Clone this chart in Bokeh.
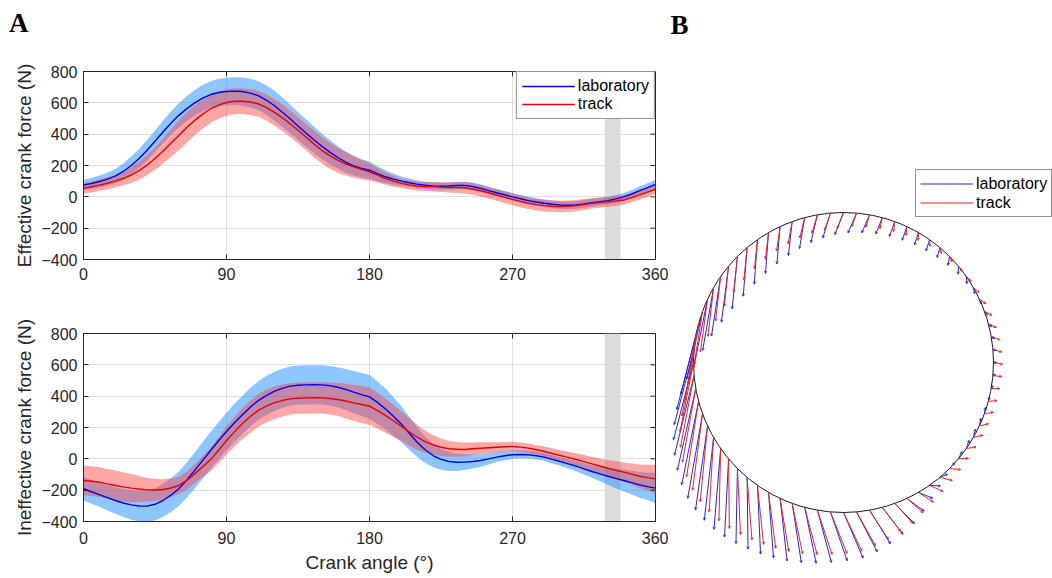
import numpy as np
from bokeh.plotting import figure
from bokeh.layouts import row, column
from bokeh.models import (Range1d, FixedTicker, Legend, LegendItem, Div,
                          BoxAnnotation, Label, ColumnDataSource, Arrow, OpenHead)
from bokeh.embed import file_html
from bokeh.resources import INLINE

# ---------------- data (every 5 degrees) ----------------
angles = list(range(0, 361, 5))

eff_lab = [75, 85, 98, 113, 132, 162, 200, 245, 297, 355, 414, 470, 520, 563, 600, 630, 653, 666, 672,
           675, 672, 662, 646, 618, 583, 542, 498, 452, 407, 364, 323, 285, 251, 222, 198, 182, 170,
           148, 128, 113, 100, 90, 81, 74, 69, 68, 69, 72, 73, 66, 54, 40, 26, 13, 0, -12, -24,
           -33, -41, -47, -52, -54, -52, -45, -37, -31, -24, -13, 0, 18, 39, 59, 79]
eff_lab_sd = [32, 35, 38, 41, 45, 51, 57, 61, 65, 69, 72, 75, 78, 80, 82, 84, 85, 87, 88,
              89, 90, 91, 92, 94, 95, 94, 92, 90, 88, 85, 82, 77, 72, 67, 62, 58, 55,
              48, 42, 36, 30, 27, 25, 23, 22, 22, 22, 23, 24, 25, 25, 25, 25, 25, 25, 24, 24,
              24, 24, 24, 24, 24, 24, 24, 24, 24, 24, 24, 25, 26, 27, 28, 30]
eff_trk = [54, 64, 75, 87, 100, 117, 139, 167, 202, 245, 291, 342, 392, 442, 488, 528, 562, 586, 602,
           610, 610, 605, 594, 571, 541, 506, 467, 425, 382, 338, 297, 263, 234, 211, 192, 175, 160,
           138, 117, 100, 86, 76, 69, 66, 65, 62, 60, 59, 58, 50, 39, 26, 12, -2, -16, -29, -41,
           -50, -56, -60, -62, -60, -56, -49, -41, -36, -31, -26, -20, -5, 12, 30, 48]
eff_trk_sd = [34, 35, 36, 38, 40, 45, 50, 57, 65, 72, 80, 88, 95, 96, 95, 92, 90, 87, 85,
              83, 82, 82, 82, 83, 85, 85, 85, 85, 85, 85, 85, 83, 80, 75, 70, 62, 55,
              47, 40, 35, 30, 29, 28, 29, 30, 31, 33, 35, 36, 37, 37, 37, 37, 37, 37, 37, 37,
              37, 37, 37, 37, 37, 36, 35, 34, 33, 32, 31, 30, 30, 30, 30, 30]

ineff_lab = [-191, -210, -228, -248, -266, -282, -294, -301, -302, -290, -266, -232, -191, -136, -74, -10, 53,
             115, 174, 230, 281, 330, 372, 404, 430, 450, 464, 470, 472, 473, 472, 467, 457, 443, 426,
             410, 395, 360, 319, 272, 223, 163, 106, 58, 21, -3, -17, -22, -21, -17, -11, 0, 11,
             20, 26, 28, 26, 20, 11, -3, -17, -32, -47, -64, -81, -96, -111, -125, -138, -152, -166,
             -177, -187]
ineff_lab_sd = [75, 76, 78, 81, 85, 90, 95, 98, 100, 103, 105, 108, 110, 113, 115, 117, 118,
                119, 120, 121, 122, 123, 124, 125, 125, 125, 125, 125, 125, 125, 125, 126, 128, 131, 135,
                138, 140, 136, 130, 123, 115, 105, 95, 85, 75, 67, 60, 55, 50, 45, 40, 36, 32,
                29, 27, 26, 25, 25, 25, 26, 27, 29, 32, 36, 40, 47, 55, 62, 70, 76, 82,
                88, 95]
ineff_trk = [-138, -143, -149, -160, -170, -179, -187, -193, -198, -199, -196, -186, -170, -138, -96, -50, -5,
             55, 117, 172, 225, 270, 309, 337, 357, 372, 383, 387, 389, 390, 389, 385, 379, 369, 357,
             347, 336, 308, 277, 243, 209, 172, 138, 110, 89, 74, 64, 61, 60, 64, 68, 71, 74,
             77, 79, 75, 68, 58, 47, 34, 21, 9, -4, -18, -32, -46, -60, -73, -85, -98, -111,
             -120, -128]
ineff_trk_sd = [95, 95, 95, 95, 95, 93, 90, 83, 75, 70, 65, 60, 55, 57, 60, 67, 75,
                83, 90, 95, 100, 103, 105, 105, 105, 103, 100, 100, 100, 100, 100, 102, 105, 110, 115,
                118, 120, 115, 110, 103, 95, 88, 80, 71, 62, 56, 50, 47, 45, 41, 38, 35, 32,
                31, 30, 30, 30, 31, 32, 33, 35, 37, 40, 42, 45, 48, 52, 57, 62, 68, 75,
                82, 90]

x_ticks = [0, 90, 180, 270, 360]
y_ticks = [-400, -200, 0, 200, 400, 600, 800]
shade_range = [328, 338]
series_names = ["laboratory", "track"]

# ---------------- style ----------------
SANS = "Liberation Sans"
SERIF = "Liberation Serif"
AXC = "#262626"
GRID = "#dedede"
LINE_BLUE = "#0000F0"
LINE_RED = "#E80000"
BAND_BLUE = "#1E90FF"
BAND_RED = "#FF3C3C"
FRAME_W = 572
FRAME_H = 188
TICK_PX = 5


def style_axis(ax, ticks):
    ax.ticker = FixedTicker(ticks=ticks)
    ax.major_tick_in = TICK_PX
    ax.major_tick_out = 0
    ax.minor_tick_line_color = None
    ax.axis_line_color = AXC
    ax.major_tick_line_color = AXC
    ax.major_label_text_color = AXC
    ax.major_label_text_font = SANS
    ax.major_label_text_font_size = "16px"
    ax.axis_label_text_font = SANS
    ax.axis_label_text_font_style = "normal"
    ax.axis_label_text_color = AXC
    ax.axis_label_text_font_size = "19px"


def panel(height, top, bottom, lab, lab_sd, trk, trk_sd, ylabel, xlabel=None, legend=False,
          xstand=8):
    p = figure(width=668, height=height,
               x_range=Range1d(x_ticks[0], x_ticks[-1]),
               y_range=Range1d(y_ticks[0], y_ticks[-1]),
               output_backend="svg", toolbar_location=None,
               min_border_left=83, min_border_right=13,
               min_border_top=top, min_border_bottom=bottom,
               outline_line_color=AXC, outline_line_width=1)
    style_axis(p.xaxis[0], x_ticks)
    style_axis(p.yaxis[0], y_ticks)
    p.xaxis[0].major_label_standoff = xstand
    p.yaxis[0].major_label_standoff = 6
    p.yaxis[0].axis_label = ylabel
    p.yaxis[0].axis_label_standoff = 3
    if xlabel:
        p.xaxis[0].axis_label = xlabel
        p.xaxis[0].axis_label_standoff = 5

    p.xgrid.ticker = FixedTicker(ticks=x_ticks)
    p.ygrid.ticker = FixedTicker(ticks=y_ticks)
    p.grid.grid_line_color = GRID
    p.grid.grid_line_width = 1

    p.add_layout(BoxAnnotation(left=shade_range[0], right=shade_range[1],
                               fill_color="#dcdcdc", fill_alpha=1.0, line_color=None,
                               level="underlay"))

    a = np.array(angles, float)
    lab = np.array(lab, float); lab_sd = np.array(lab_sd, float)
    trk = np.array(trk, float); trk_sd = np.array(trk_sd, float)
    p.varea(x=a, y1=lab - lab_sd, y2=lab + lab_sd, fill_color=BAND_BLUE, fill_alpha=0.5)
    p.varea(x=a, y1=trk - trk_sd, y2=trk + trk_sd, fill_color=BAND_RED, fill_alpha=0.45)
    r_lab = p.line(a, lab, line_color=LINE_BLUE, line_width=1.4)
    r_trk = p.line(a, trk, line_color=LINE_RED, line_width=1.4)

    # mirrored inward ticks on the top and right edges of the box
    dx = TICK_PX * (x_ticks[-1] - x_ticks[0]) / FRAME_W
    dy = TICK_PX * (y_ticks[-1] - y_ticks[0]) / FRAME_H
    xt = np.array(x_ticks[1:-1], float)
    yt = np.array(y_ticks[1:-1], float)
    p.segment(x0=xt, y0=[y_ticks[-1]] * len(xt), x1=xt, y1=[y_ticks[-1] - dy] * len(xt),
              line_color=AXC, line_width=1)
    p.segment(x0=[x_ticks[-1]] * len(yt), y0=yt, x1=[x_ticks[-1] - dx] * len(yt), y1=yt,
              line_color=AXC, line_width=1)

    if legend:
        lg = Legend(items=[LegendItem(label=series_names[0], renderers=[r_lab]),
                           LegendItem(label=series_names[1], renderers=[r_trk])],
                    location="top_right", margin=0, padding=5, spacing=0,
                    glyph_width=53, glyph_height=18, label_height=18, label_standoff=3,
                    label_text_font=SANS, label_text_font_size="16px", label_text_color="black",
                    border_line_color=AXC, border_line_width=1, background_fill_alpha=1.0)
        p.add_layout(lg)
    return p


# header strip carrying the panel letter "A"
head = Div(text=("<div style=\"font-family:'Liberation Serif';font-weight:bold;font-size:27px;"
                 "line-height:27px;padding-left:9px;padding-top:10px;color:black;\">A</div>"),
           width=668, height=40, margin=0)

p1 = panel(258, 31, 39, eff_lab, eff_lab_sd, eff_trk, eff_trk_sd,
           "Effective crank force (N)", legend=True, xstand=8)
p2 = panel(280, 35, 57, ineff_lab, ineff_lab_sd, ineff_trk, ineff_trk_sd,
           "Ineffective crank force (N)", xlabel="Crank angle (°)", xstand=10)

# ---------------- panel B: force vectors around the crank circle ----------------
R_PX = 150.0
pB = figure(width=384, height=578,
            x_range=Range1d(-175 / R_PX, 209 / R_PX),
            y_range=Range1d(-216 / R_PX, 362 / R_PX),
            x_axis_type=None, y_axis_type=None, min_border=0,
            outline_line_color=None, output_backend="svg", toolbar_location=None)
pB.grid.visible = False

arrow_scale = 0.115 / R_PX
th = np.deg2rad(np.array(angles[:-1], float))
px, py = -np.sin(th), np.cos(th)
tx, ty = -np.cos(th), -np.sin(th)
rx, ry = -np.sin(th), np.cos(th)


def vec_source(E, I):
    E = np.array(E[:-1], float); I = np.array(I[:-1], float)
    fx = E * tx + I * rx
    fy = E * ty + I * ry
    return ColumnDataSource(dict(x0=px, y0=py, x1=px + arrow_scale * fx, y1=py + arrow_scale * fy))


pB.circle(x=[0], y=[0], radius=1, fill_color=None, line_color="#1a1a1a", line_width=1)
src_lab = vec_source(eff_lab, ineff_lab)
src_trk = vec_source(eff_trk, ineff_trk)
s_lab = pB.segment("x0", "y0", "x1", "y1", source=src_lab, line_color="#2424E6", line_width=1)
s_trk = pB.segment("x0", "y0", "x1", "y1", source=src_trk, line_color="#E82424", line_width=1)
pB.add_layout(Arrow(end=OpenHead(size=2.5, line_color="#2424E6", line_width=0.8), source=src_lab,
                    x_start="x0", y_start="y0", x_end="x1", y_end="y1", line_alpha=0))
pB.add_layout(Arrow(end=OpenHead(size=2.5, line_color="#E82424", line_width=0.8), source=src_trk,
                    x_start="x0", y_start="y0", x_end="x1", y_end="y1", line_alpha=0))

lgB = Legend(items=[LegendItem(label=series_names[0], renderers=[s_lab]),
                    LegendItem(label=series_names[1], renderers=[s_trk])],
             location=(247, 361), margin=0, padding=4, spacing=0,
             glyph_width=53, glyph_height=19, label_height=19, label_standoff=3,
             label_text_font=SANS, label_text_font_size="16px", label_text_color="black",
             border_line_color=AXC, border_line_width=1, background_fill_alpha=1.0)
pB.add_layout(lgB)
pB.add_layout(Label(x=2, y=554, x_units="screen", y_units="screen", text="B",
                    text_font=SERIF, text_font_style="bold", text_font_size="27px",
                    text_color="black", text_baseline="alphabetic"))

layout = row(column(head, p1, p2), pB)
open("out.html", "w").write(file_html(layout, INLINE))
